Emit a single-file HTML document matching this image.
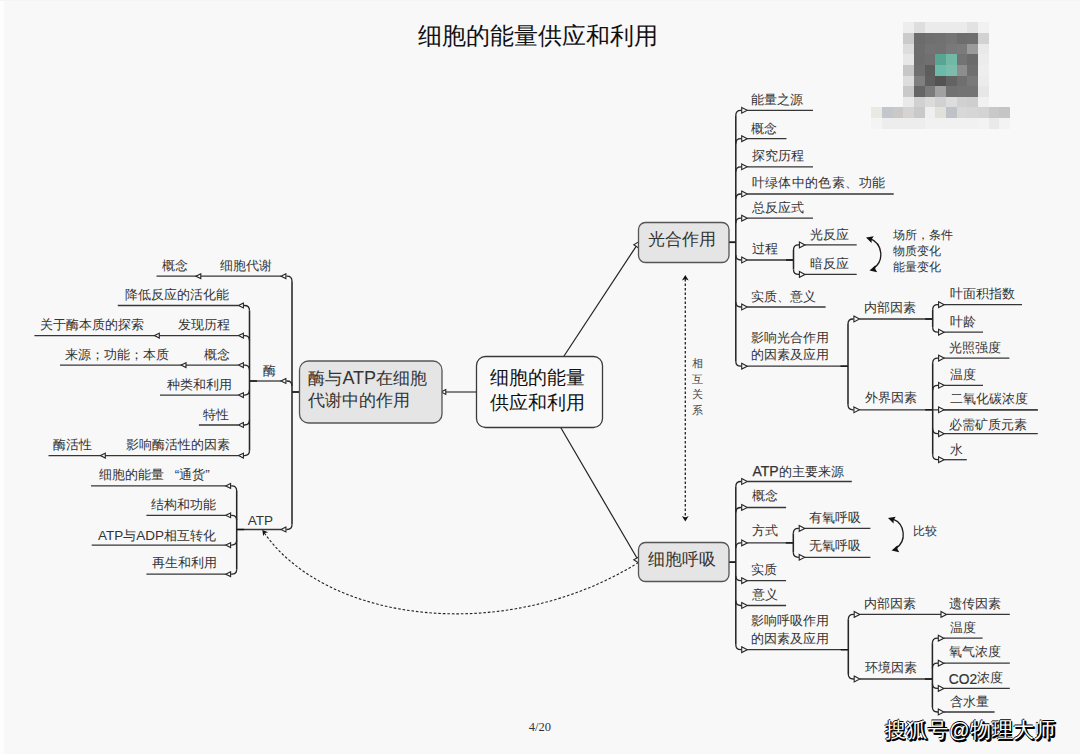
<!DOCTYPE html><html><head><meta charset="utf-8"><style>
html,body{margin:0;padding:0;}
body{width:1080px;height:754px;overflow:hidden;position:relative;background:#f8f8f8;font-family:"Liberation Sans",sans-serif;}
.t{position:absolute;white-space:nowrap;}
svg{position:absolute;left:0;top:0;}
</style></head><body>
<div style="position:absolute;left:0;top:0;width:4px;height:754px;background:#fdfdfd"></div>
<div style="position:absolute;left:0;top:0;width:1080px;height:1px;background:#f4f4f4"></div>
<svg width="1080" height="754" viewBox="0 0 1080 754"><path d="M563.7,356.5 L636.8,245.3" stroke="#222" stroke-width="1.2"  fill="none"/><path d="M560.7,427.5 L636.8,557.8" stroke="#222" stroke-width="1.2"  fill="none"/><path d="M476.5,392 L445.6,392" stroke="#363636" stroke-width="1.2"  fill="none"/><path d="M729,242.2 L735.8,242.2" stroke="#1a1a1a" stroke-width="1.8"  fill="none"/><path d="M735.8,115.3 L735.8,361.2" stroke="#262626" stroke-width="1.55"  fill="none"/><path d="M735.8,115.3 Q735.8,110.3 740.8,110.3 L741.4,110.3" stroke="#262626" stroke-width="1.3"  fill="none"/><path d="M747.3,110.3 L813,110.3" stroke="#363636" stroke-width="1.3"  fill="none"/><path d="M735.8,143.7 Q735.8,138.7 740.8,138.7 L741.4,138.7" stroke="#262626" stroke-width="1.3"  fill="none"/><path d="M747.3,138.7 L786.5,138.7" stroke="#363636" stroke-width="1.3"  fill="none"/><path d="M735.8,171.8 Q735.8,166.8 740.8,166.8 L741.4,166.8" stroke="#262626" stroke-width="1.3"  fill="none"/><path d="M747.3,166.8 L813,166.8" stroke="#363636" stroke-width="1.3"  fill="none"/><path d="M735.8,199.0 Q735.8,194 740.8,194 L741.4,194" stroke="#262626" stroke-width="1.3"  fill="none"/><path d="M747.3,194 L893.7,194" stroke="#363636" stroke-width="1.3"  fill="none"/><path d="M735.8,223.2 Q735.8,218.2 740.8,218.2 L741.4,218.2" stroke="#262626" stroke-width="1.3"  fill="none"/><path d="M747.3,218.2 L813,218.2" stroke="#363636" stroke-width="1.3"  fill="none"/><path d="M735.8,255.0 Q735.8,260 740.8,260 L741.4,260" stroke="#262626" stroke-width="1.3"  fill="none"/><path d="M747.3,260 L793.5,260" stroke="#363636" stroke-width="1.3"  fill="none"/><path d="M735.8,302.0 Q735.8,307 740.8,307 L741.4,307" stroke="#262626" stroke-width="1.3"  fill="none"/><path d="M747.3,307 L825.6,307" stroke="#363636" stroke-width="1.3"  fill="none"/><path d="M735.8,361.2 Q735.8,366.2 740.8,366.2 L741.4,366.2" stroke="#262626" stroke-width="1.3"  fill="none"/><path d="M747.3,366.2 L848,366.2" stroke="#363636" stroke-width="1.3"  fill="none"/><path d="M786.0,260 L793.5,260" stroke="#111" stroke-width="1.4"  fill="none"/><path d="M793.5,249.9 L793.5,269.4" stroke="#262626" stroke-width="1.55"  fill="none"/><path d="M793.5,249.9 Q793.5,244.9 798.5,244.9 L799.1,244.9" stroke="#262626" stroke-width="1.3"  fill="none"/><path d="M805.0,244.9 L856.7,244.9" stroke="#363636" stroke-width="1.3"  fill="none"/><path d="M793.5,269.4 Q793.5,274.4 798.5,274.4 L799.1,274.4" stroke="#262626" stroke-width="1.3"  fill="none"/><path d="M805.0,274.4 L856.7,274.4" stroke="#363636" stroke-width="1.3"  fill="none"/><path d="M840.5,366.2 L848,366.2" stroke="#111" stroke-width="1.4"  fill="none"/><path d="M848,324.0 L848,404.8" stroke="#262626" stroke-width="1.55"  fill="none"/><path d="M848,324.0 Q848,319 853.0,319 L853.6,319" stroke="#262626" stroke-width="1.3"  fill="none"/><path d="M859.5,319 L932.7,319" stroke="#363636" stroke-width="1.3"  fill="none"/><path d="M848,404.8 Q848,409.8 853.0,409.8 L853.6,409.8" stroke="#262626" stroke-width="1.3"  fill="none"/><path d="M859.5,409.8 L932.7,409.8" stroke="#363636" stroke-width="1.3"  fill="none"/><path d="M925.2,319 L932.7,319" stroke="#111" stroke-width="1.4"  fill="none"/><path d="M932.7,309.7 L932.7,327.2" stroke="#262626" stroke-width="1.55"  fill="none"/><path d="M932.7,309.7 Q932.7,304.7 937.7,304.7 L938.3000000000001,304.7" stroke="#262626" stroke-width="1.3"  fill="none"/><path d="M944.2,304.7 L1022,304.7" stroke="#363636" stroke-width="1.3"  fill="none"/><path d="M932.7,327.2 Q932.7,332.2 937.7,332.2 L938.3000000000001,332.2" stroke="#262626" stroke-width="1.3"  fill="none"/><path d="M944.2,332.2 L983,332.2" stroke="#363636" stroke-width="1.3"  fill="none"/><path d="M925.2,409.8 L932.7,409.8" stroke="#111" stroke-width="1.4"  fill="none"/><path d="M932.7,363.1 L932.7,454.7" stroke="#262626" stroke-width="1.55"  fill="none"/><path d="M932.7,363.1 Q932.7,358.1 937.7,358.1 L938.3000000000001,358.1" stroke="#262626" stroke-width="1.3"  fill="none"/><path d="M944.2,358.1 L1009.4,358.1" stroke="#363636" stroke-width="1.3"  fill="none"/><path d="M932.7,390.3 Q932.7,385.3 937.7,385.3 L938.3000000000001,385.3" stroke="#262626" stroke-width="1.3"  fill="none"/><path d="M944.2,385.3 L983,385.3" stroke="#363636" stroke-width="1.3"  fill="none"/><path d="M932.7,409.8 L1037.8,409.8" stroke="#363636" stroke-width="1.3"  fill="none"/><path d="M944.2,409.8 L1037.8,409.8" stroke="#363636" stroke-width="1.3"  fill="none"/><path d="M932.7,428.7 Q932.7,433.7 937.7,433.7 L938.3000000000001,433.7" stroke="#262626" stroke-width="1.3"  fill="none"/><path d="M944.2,433.7 L1037.8,433.7" stroke="#363636" stroke-width="1.3"  fill="none"/><path d="M932.7,454.7 Q932.7,459.7 937.7,459.7 L938.3000000000001,459.7" stroke="#262626" stroke-width="1.3"  fill="none"/><path d="M944.2,459.7 L966.8,459.7" stroke="#363636" stroke-width="1.3"  fill="none"/><path d="M729,562.1 L735.8,562.1" stroke="#1a1a1a" stroke-width="1.8"  fill="none"/><path d="M735.8,486.5 L735.8,644.7" stroke="#262626" stroke-width="1.55"  fill="none"/><path d="M735.8,486.5 Q735.8,481.5 740.8,481.5 L741.4,481.5" stroke="#262626" stroke-width="1.3"  fill="none"/><path d="M747.3,481.5 L851.8,481.5" stroke="#363636" stroke-width="1.3"  fill="none"/><path d="M735.8,512.5 Q735.8,507.5 740.8,507.5 L741.4,507.5" stroke="#262626" stroke-width="1.3"  fill="none"/><path d="M747.3,507.5 L786.1,507.5" stroke="#363636" stroke-width="1.3"  fill="none"/><path d="M735.8,547.9 Q735.8,542.9 740.8,542.9 L741.4,542.9" stroke="#262626" stroke-width="1.3"  fill="none"/><path d="M747.3,542.9 L793.3,542.9" stroke="#363636" stroke-width="1.3"  fill="none"/><path d="M735.8,575.7 Q735.8,580.7 740.8,580.7 L741.4,580.7" stroke="#262626" stroke-width="1.3"  fill="none"/><path d="M747.3,580.7 L786.1,580.7" stroke="#363636" stroke-width="1.3"  fill="none"/><path d="M735.8,600.5 Q735.8,605.5 740.8,605.5 L741.4,605.5" stroke="#262626" stroke-width="1.3"  fill="none"/><path d="M747.3,605.5 L786.1,605.5" stroke="#363636" stroke-width="1.3"  fill="none"/><path d="M735.8,644.7 Q735.8,649.7 740.8,649.7 L741.4,649.7" stroke="#262626" stroke-width="1.3"  fill="none"/><path d="M747.3,649.7 L848.3,649.7" stroke="#363636" stroke-width="1.3"  fill="none"/><path d="M785.8,542.9 L793.3,542.9" stroke="#111" stroke-width="1.4"  fill="none"/><path d="M793.3,533.4 L793.3,552.3" stroke="#262626" stroke-width="1.55"  fill="none"/><path d="M793.3,533.4 Q793.3,528.4 798.3,528.4 L798.9,528.4" stroke="#262626" stroke-width="1.3"  fill="none"/><path d="M804.8,528.4 L870.4,528.4" stroke="#363636" stroke-width="1.3"  fill="none"/><path d="M793.3,552.3 Q793.3,557.3 798.3,557.3 L798.9,557.3" stroke="#262626" stroke-width="1.3"  fill="none"/><path d="M804.8,557.3 L870.4,557.3" stroke="#363636" stroke-width="1.3"  fill="none"/><path d="M840.8,649.7 L848.3,649.7" stroke="#111" stroke-width="1.4"  fill="none"/><path d="M848.3,619.4 L848.3,674.0" stroke="#262626" stroke-width="1.55"  fill="none"/><path d="M848.3,619.4 Q848.3,614.4 853.3,614.4 L853.9,614.4" stroke="#262626" stroke-width="1.3"  fill="none"/><path d="M859.8,614.4 L941,614.4" stroke="#363636" stroke-width="1.3"  fill="none"/><path d="M848.3,674.0 Q848.3,679 853.3,679 L853.9,679" stroke="#262626" stroke-width="1.3"  fill="none"/><path d="M859.8,679 L932.4,679" stroke="#363636" stroke-width="1.3"  fill="none"/><path d="M946.6,614.4 L1009.8,614.4" stroke="#363636" stroke-width="1.3"  fill="none"/><path d="M924.9,679 L932.4,679" stroke="#111" stroke-width="1.4"  fill="none"/><path d="M932.4,643.2 L932.4,707.0" stroke="#262626" stroke-width="1.55"  fill="none"/><path d="M932.4,643.2 Q932.4,638.2 937.4,638.2 L938.0,638.2" stroke="#262626" stroke-width="1.3"  fill="none"/><path d="M943.9,638.2 L982.6,638.2" stroke="#363636" stroke-width="1.3"  fill="none"/><path d="M932.4,668.2 Q932.4,663.2 937.4,663.2 L938.0,663.2" stroke="#262626" stroke-width="1.3"  fill="none"/><path d="M943.9,663.2 L1009.8,663.2" stroke="#363636" stroke-width="1.3"  fill="none"/><path d="M932.4,683.4 Q932.4,688.4 937.4,688.4 L938.0,688.4" stroke="#262626" stroke-width="1.3"  fill="none"/><path d="M943.9,688.4 L1009.8,688.4" stroke="#363636" stroke-width="1.3"  fill="none"/><path d="M932.4,707.0 Q932.4,712 937.4,712 L938.0,712" stroke="#262626" stroke-width="1.3"  fill="none"/><path d="M943.9,712 L994.6,712" stroke="#363636" stroke-width="1.3"  fill="none"/><path d="M299.5,392 L292,392" stroke="#1a1a1a" stroke-width="1.8"  fill="none"/><path d="M292,281.2 L292,524.5" stroke="#262626" stroke-width="1.55"  fill="none"/><path d="M292,281.2 Q292,276.2 287.0,276.2 L286.4,276.2" stroke="#262626" stroke-width="1.3"  fill="none"/><path d="M281.0,276.2 L156.5,276.2" stroke="#363636" stroke-width="1.3"  fill="none"/><path d="M292,386.0 Q292,381 287.0,381 L286.4,381" stroke="#262626" stroke-width="1.3"  fill="none"/><path d="M281.0,381 L249.5,381" stroke="#363636" stroke-width="1.3"  fill="none"/><path d="M292,524.5 Q292,529.5 287.0,529.5 L286.4,529.5" stroke="#262626" stroke-width="1.3"  fill="none"/><path d="M281.0,529.5 L236.7,529.5" stroke="#363636" stroke-width="1.3"  fill="none"/><path d="M249.5,381 L257.0,381" stroke="#111" stroke-width="1.4"  fill="none"/><path d="M249.5,310.5 L249.5,450.6" stroke="#262626" stroke-width="1.55"  fill="none"/><path d="M249.5,310.5 Q249.5,305.5 244.5,305.5 L243.9,305.5" stroke="#262626" stroke-width="1.3"  fill="none"/><path d="M238.5,305.5 L117.8,305.5" stroke="#363636" stroke-width="1.3"  fill="none"/><path d="M249.5,340.6 Q249.5,335.6 244.5,335.6 L243.9,335.6" stroke="#262626" stroke-width="1.3"  fill="none"/><path d="M238.5,335.6 L34.4,335.6" stroke="#363636" stroke-width="1.3"  fill="none"/><path d="M249.5,370.1 Q249.5,365.1 244.5,365.1 L243.9,365.1" stroke="#262626" stroke-width="1.3"  fill="none"/><path d="M238.5,365.1 L60,365.1" stroke="#363636" stroke-width="1.3"  fill="none"/><path d="M249.5,390.1 Q249.5,395.1 244.5,395.1 L243.9,395.1" stroke="#262626" stroke-width="1.3"  fill="none"/><path d="M238.5,395.1 L160,395.1" stroke="#363636" stroke-width="1.3"  fill="none"/><path d="M249.5,420.0 Q249.5,425 244.5,425 L243.9,425" stroke="#262626" stroke-width="1.3"  fill="none"/><path d="M238.5,425 L198.9,425" stroke="#363636" stroke-width="1.3"  fill="none"/><path d="M249.5,450.6 Q249.5,455.6 244.5,455.6 L243.9,455.6" stroke="#262626" stroke-width="1.3"  fill="none"/><path d="M238.5,455.6 L48.5,455.6" stroke="#363636" stroke-width="1.3"  fill="none"/><path d="M236.7,529.5 L244.2,529.5" stroke="#111" stroke-width="1.4"  fill="none"/><path d="M236.7,490.9 L236.7,569.2" stroke="#262626" stroke-width="1.55"  fill="none"/><path d="M236.7,490.9 Q236.7,485.9 231.7,485.9 L231.1,485.9" stroke="#262626" stroke-width="1.3"  fill="none"/><path d="M225.7,485.9 L91,485.9" stroke="#363636" stroke-width="1.3"  fill="none"/><path d="M236.7,520.3 Q236.7,515.3 231.7,515.3 L231.1,515.3" stroke="#262626" stroke-width="1.3"  fill="none"/><path d="M225.7,515.3 L146.4,515.3" stroke="#363636" stroke-width="1.3"  fill="none"/><path d="M236.7,540.1 Q236.7,545.1 231.7,545.1 L231.1,545.1" stroke="#262626" stroke-width="1.3"  fill="none"/><path d="M225.7,545.1 L91.7,545.1" stroke="#363636" stroke-width="1.3"  fill="none"/><path d="M236.7,569.2 Q236.7,574.2 231.7,574.2 L231.1,574.2" stroke="#262626" stroke-width="1.3"  fill="none"/><path d="M225.7,574.2 L146.4,574.2" stroke="#363636" stroke-width="1.3"  fill="none"/><path d="M685.3,279 L685.3,518" stroke="#222" stroke-width="1.3" stroke-dasharray="2.6 1.9" fill="none"/><path d="M638.5,562.5 C505.5,645.2 326.6,622.8 264,532.5" stroke="#222" stroke-width="1.1" stroke-dasharray="2.6 1.9" fill="none"/><path d="M870.33,238.68 A17.08,17.08 0 0 1 873.49,268.44" stroke="#1a1a1a" stroke-width="1.3"  fill="none"/><path d="M892.38,518.98 A16.67,16.67 0 0 1 895.66,548.59" stroke="#1a1a1a" stroke-width="1.3"  fill="none"/><polygon points="638.6,241.9 633.8,244.8 638.6,247.9" fill="#f8f8f8" stroke="#262626" stroke-width="1.1" stroke-linejoin="miter"/><polygon points="638.6,557.0 633.8,559.8 638.6,562.9" fill="#f8f8f8" stroke="#262626" stroke-width="1.1" stroke-linejoin="miter"/><polygon points="445.80,389.60 441.20,392.00 445.80,394.40" fill="#f8f8f8" stroke="#262626" stroke-width="1.1" stroke-linejoin="miter"/><polygon points="741.70,107.40 747.30,110.30 741.70,113.20" fill="#f8f8f8" stroke="#262626" stroke-width="1.1" stroke-linejoin="miter"/><polygon points="741.70,135.80 747.30,138.70 741.70,141.60" fill="#f8f8f8" stroke="#262626" stroke-width="1.1" stroke-linejoin="miter"/><polygon points="741.70,163.90 747.30,166.80 741.70,169.70" fill="#f8f8f8" stroke="#262626" stroke-width="1.1" stroke-linejoin="miter"/><polygon points="741.70,191.10 747.30,194.00 741.70,196.90" fill="#f8f8f8" stroke="#262626" stroke-width="1.1" stroke-linejoin="miter"/><polygon points="741.70,215.30 747.30,218.20 741.70,221.10" fill="#f8f8f8" stroke="#262626" stroke-width="1.1" stroke-linejoin="miter"/><polygon points="741.70,257.10 747.30,260.00 741.70,262.90" fill="#f8f8f8" stroke="#262626" stroke-width="1.1" stroke-linejoin="miter"/><polygon points="741.70,304.10 747.30,307.00 741.70,309.90" fill="#f8f8f8" stroke="#262626" stroke-width="1.1" stroke-linejoin="miter"/><polygon points="741.70,363.30 747.30,366.20 741.70,369.10" fill="#f8f8f8" stroke="#262626" stroke-width="1.1" stroke-linejoin="miter"/><polygon points="799.40,242.00 805.00,244.90 799.40,247.80" fill="#f8f8f8" stroke="#262626" stroke-width="1.1" stroke-linejoin="miter"/><polygon points="799.40,271.50 805.00,274.40 799.40,277.30" fill="#f8f8f8" stroke="#262626" stroke-width="1.1" stroke-linejoin="miter"/><polygon points="853.90,316.10 859.50,319.00 853.90,321.90" fill="#f8f8f8" stroke="#262626" stroke-width="1.1" stroke-linejoin="miter"/><polygon points="853.90,406.90 859.50,409.80 853.90,412.70" fill="#f8f8f8" stroke="#262626" stroke-width="1.1" stroke-linejoin="miter"/><polygon points="938.60,301.80 944.20,304.70 938.60,307.60" fill="#f8f8f8" stroke="#262626" stroke-width="1.1" stroke-linejoin="miter"/><polygon points="938.60,329.30 944.20,332.20 938.60,335.10" fill="#f8f8f8" stroke="#262626" stroke-width="1.1" stroke-linejoin="miter"/><polygon points="938.60,355.20 944.20,358.10 938.60,361.00" fill="#f8f8f8" stroke="#262626" stroke-width="1.1" stroke-linejoin="miter"/><polygon points="938.60,382.40 944.20,385.30 938.60,388.20" fill="#f8f8f8" stroke="#262626" stroke-width="1.1" stroke-linejoin="miter"/><polygon points="938.60,406.90 944.20,409.80 938.60,412.70" fill="#f8f8f8" stroke="#262626" stroke-width="1.1" stroke-linejoin="miter"/><polygon points="938.60,430.80 944.20,433.70 938.60,436.60" fill="#f8f8f8" stroke="#262626" stroke-width="1.1" stroke-linejoin="miter"/><polygon points="938.60,456.80 944.20,459.70 938.60,462.60" fill="#f8f8f8" stroke="#262626" stroke-width="1.1" stroke-linejoin="miter"/><polygon points="741.70,478.60 747.30,481.50 741.70,484.40" fill="#f8f8f8" stroke="#262626" stroke-width="1.1" stroke-linejoin="miter"/><polygon points="741.70,504.60 747.30,507.50 741.70,510.40" fill="#f8f8f8" stroke="#262626" stroke-width="1.1" stroke-linejoin="miter"/><polygon points="741.70,540.00 747.30,542.90 741.70,545.80" fill="#f8f8f8" stroke="#262626" stroke-width="1.1" stroke-linejoin="miter"/><polygon points="741.70,577.80 747.30,580.70 741.70,583.60" fill="#f8f8f8" stroke="#262626" stroke-width="1.1" stroke-linejoin="miter"/><polygon points="741.70,602.60 747.30,605.50 741.70,608.40" fill="#f8f8f8" stroke="#262626" stroke-width="1.1" stroke-linejoin="miter"/><polygon points="741.70,646.80 747.30,649.70 741.70,652.60" fill="#f8f8f8" stroke="#262626" stroke-width="1.1" stroke-linejoin="miter"/><polygon points="799.20,525.50 804.80,528.40 799.20,531.30" fill="#f8f8f8" stroke="#262626" stroke-width="1.1" stroke-linejoin="miter"/><polygon points="799.20,554.40 804.80,557.30 799.20,560.20" fill="#f8f8f8" stroke="#262626" stroke-width="1.1" stroke-linejoin="miter"/><polygon points="854.20,611.50 859.80,614.40 854.20,617.30" fill="#f8f8f8" stroke="#262626" stroke-width="1.1" stroke-linejoin="miter"/><polygon points="854.20,676.10 859.80,679.00 854.20,681.90" fill="#f8f8f8" stroke="#262626" stroke-width="1.1" stroke-linejoin="miter"/><polygon points="941.00,611.50 946.60,614.40 941.00,617.30" fill="#f8f8f8" stroke="#262626" stroke-width="1.1" stroke-linejoin="miter"/><polygon points="938.30,635.30 943.90,638.20 938.30,641.10" fill="#f8f8f8" stroke="#262626" stroke-width="1.1" stroke-linejoin="miter"/><polygon points="938.30,660.30 943.90,663.20 938.30,666.10" fill="#f8f8f8" stroke="#262626" stroke-width="1.1" stroke-linejoin="miter"/><polygon points="938.30,685.50 943.90,688.40 938.30,691.30" fill="#f8f8f8" stroke="#262626" stroke-width="1.1" stroke-linejoin="miter"/><polygon points="938.30,709.10 943.90,712.00 938.30,714.90" fill="#f8f8f8" stroke="#262626" stroke-width="1.1" stroke-linejoin="miter"/><polygon points="285.90,273.80 281.00,276.20 285.90,278.60" fill="#f8f8f8" stroke="#262626" stroke-width="1.1" stroke-linejoin="miter"/><polygon points="285.90,378.60 281.00,381.00 285.90,383.40" fill="#f8f8f8" stroke="#262626" stroke-width="1.1" stroke-linejoin="miter"/><polygon points="285.90,527.10 281.00,529.50 285.90,531.90" fill="#f8f8f8" stroke="#262626" stroke-width="1.1" stroke-linejoin="miter"/><polygon points="200.80,273.80 195.90,276.20 200.80,278.60" fill="#f8f8f8" stroke="#262626" stroke-width="1.1" stroke-linejoin="miter"/><polygon points="243.40,303.10 238.50,305.50 243.40,307.90" fill="#f8f8f8" stroke="#262626" stroke-width="1.1" stroke-linejoin="miter"/><polygon points="243.40,333.20 238.50,335.60 243.40,338.00" fill="#f8f8f8" stroke="#262626" stroke-width="1.1" stroke-linejoin="miter"/><polygon points="243.40,362.70 238.50,365.10 243.40,367.50" fill="#f8f8f8" stroke="#262626" stroke-width="1.1" stroke-linejoin="miter"/><polygon points="243.40,392.70 238.50,395.10 243.40,397.50" fill="#f8f8f8" stroke="#262626" stroke-width="1.1" stroke-linejoin="miter"/><polygon points="243.40,422.60 238.50,425.00 243.40,427.40" fill="#f8f8f8" stroke="#262626" stroke-width="1.1" stroke-linejoin="miter"/><polygon points="243.40,453.20 238.50,455.60 243.40,458.00" fill="#f8f8f8" stroke="#262626" stroke-width="1.1" stroke-linejoin="miter"/><polygon points="159.30,333.20 154.40,335.60 159.30,338.00" fill="#f8f8f8" stroke="#262626" stroke-width="1.1" stroke-linejoin="miter"/><polygon points="186.00,362.70 181.10,365.10 186.00,367.50" fill="#f8f8f8" stroke="#262626" stroke-width="1.1" stroke-linejoin="miter"/><polygon points="105.30,453.20 100.40,455.60 105.30,458.00" fill="#f8f8f8" stroke="#262626" stroke-width="1.1" stroke-linejoin="miter"/><polygon points="230.60,483.50 225.70,485.90 230.60,488.30" fill="#f8f8f8" stroke="#262626" stroke-width="1.1" stroke-linejoin="miter"/><polygon points="230.60,512.90 225.70,515.30 230.60,517.70" fill="#f8f8f8" stroke="#262626" stroke-width="1.1" stroke-linejoin="miter"/><polygon points="230.60,542.70 225.70,545.10 230.60,547.50" fill="#f8f8f8" stroke="#262626" stroke-width="1.1" stroke-linejoin="miter"/><polygon points="230.60,571.80 225.70,574.20 230.60,576.60" fill="#f8f8f8" stroke="#262626" stroke-width="1.1" stroke-linejoin="miter"/><rect x="476.5" y="356.5" width="126.0" height="71.0" rx="9" ry="9" fill="#f9f9f9" stroke="#3a3a3a" stroke-width="1.3"/><rect x="638.5" y="222.5" width="90.5" height="40.0" rx="7" ry="7" fill="#e5e5e5" stroke="#555" stroke-width="1.3"/><rect x="638.5" y="542.5" width="90.5" height="39.0" rx="7" ry="7" fill="#e5e5e5" stroke="#555" stroke-width="1.3"/><rect x="299.5" y="361" width="142.5" height="62" rx="9" ry="9" fill="#e5e5e5" stroke="#555" stroke-width="1.3"/><path d="M866.00,237.50 L873.76,236.18 L871.72,239.31 L871.59,243.04 Z" fill="#111" stroke="none"/><path d="M869.50,270.50 L875.43,265.32 L875.32,269.06 L877.16,272.31 Z" fill="#111" stroke="none"/><path d="M888.00,518.00 L895.76,516.68 L893.72,519.81 L893.59,523.54 Z" fill="#111" stroke="none"/><path d="M891.60,550.50 L897.53,545.32 L897.42,549.06 L899.26,552.31 Z" fill="#111" stroke="none"/><path d="M685.30,275.00 L688.70,280.50 L685.30,278.90 L681.90,280.50 Z" fill="#111" stroke="none"/><path d="M685.30,521.50 L681.90,516.00 L685.30,517.60 L688.70,516.00 Z" fill="#111" stroke="none"/><path d="M262.30,530.00 L268.24,532.28 L264.74,533.04 L263.25,536.29 Z" fill="#111" stroke="none"/></svg>
<svg width="1080" height="754" viewBox="0 0 1080 754" shape-rendering="crispEdges"><rect x="903.38" y="22.20" width="10.76" height="10.76" fill="#ededed"/><rect x="914.04" y="22.20" width="10.76" height="10.76" fill="#dedede"/><rect x="924.70" y="22.20" width="10.76" height="10.76" fill="#ebebeb"/><rect x="935.36" y="22.20" width="10.76" height="10.76" fill="#ebebeb"/><rect x="946.02" y="22.20" width="10.76" height="10.76" fill="#ebebeb"/><rect x="956.68" y="22.20" width="10.76" height="10.76" fill="#ebebeb"/><rect x="967.34" y="22.20" width="10.76" height="10.76" fill="#e2e2e2"/><rect x="978.00" y="22.20" width="10.76" height="10.76" fill="#f1f1f1"/><rect x="903.38" y="32.86" width="10.76" height="10.76" fill="#cbcbcb"/><rect x="914.04" y="32.86" width="10.76" height="10.76" fill="#6c6c6c"/><rect x="924.70" y="32.86" width="10.76" height="10.76" fill="#6f6f6f"/><rect x="935.36" y="32.86" width="10.76" height="10.76" fill="#717171"/><rect x="946.02" y="32.86" width="10.76" height="10.76" fill="#757575"/><rect x="956.68" y="32.86" width="10.76" height="10.76" fill="#6d6d6d"/><rect x="967.34" y="32.86" width="10.76" height="10.76" fill="#6f6f6f"/><rect x="978.00" y="32.86" width="10.76" height="10.76" fill="#d2d2d2"/><rect x="903.38" y="43.52" width="10.76" height="10.76" fill="#dddddd"/><rect x="914.04" y="43.52" width="10.76" height="10.76" fill="#6d6d6d"/><rect x="924.70" y="43.52" width="10.76" height="10.76" fill="#737373"/><rect x="935.36" y="43.52" width="10.76" height="10.76" fill="#727272"/><rect x="946.02" y="43.52" width="10.76" height="10.76" fill="#797979"/><rect x="956.68" y="43.52" width="10.76" height="10.76" fill="#7b7b7b"/><rect x="967.34" y="43.52" width="10.76" height="10.76" fill="#9b9b9b"/><rect x="978.00" y="43.52" width="10.76" height="10.76" fill="#e9e9e9"/><rect x="903.38" y="54.18" width="10.76" height="10.76" fill="#e7e7e7"/><rect x="914.04" y="54.18" width="10.76" height="10.76" fill="#6d6d6d"/><rect x="924.70" y="54.18" width="10.76" height="10.76" fill="#707070"/><rect x="935.36" y="54.18" width="10.76" height="10.76" fill="#5aa592"/><rect x="946.02" y="54.18" width="10.76" height="10.76" fill="#72b8a6"/><rect x="956.68" y="54.18" width="10.76" height="10.76" fill="#737373"/><rect x="967.34" y="54.18" width="10.76" height="10.76" fill="#6b6b6b"/><rect x="978.00" y="54.18" width="10.76" height="10.76" fill="#ececec"/><rect x="903.38" y="64.84" width="10.76" height="10.76" fill="#c7c7c7"/><rect x="914.04" y="64.84" width="10.76" height="10.76" fill="#6f6f6f"/><rect x="924.70" y="64.84" width="10.76" height="10.76" fill="#5d5d5d"/><rect x="935.36" y="64.84" width="10.76" height="10.76" fill="#6cbaa8"/><rect x="946.02" y="64.84" width="10.76" height="10.76" fill="#7bbcac"/><rect x="956.68" y="64.84" width="10.76" height="10.76" fill="#8d8d8d"/><rect x="967.34" y="64.84" width="10.76" height="10.76" fill="#6f6f6f"/><rect x="978.00" y="64.84" width="10.76" height="10.76" fill="#eeeeee"/><rect x="903.38" y="75.50" width="10.76" height="10.76" fill="#dddddd"/><rect x="914.04" y="75.50" width="10.76" height="10.76" fill="#7f7f7f"/><rect x="924.70" y="75.50" width="10.76" height="10.76" fill="#5f5f5f"/><rect x="935.36" y="75.50" width="10.76" height="10.76" fill="#535353"/><rect x="946.02" y="75.50" width="10.76" height="10.76" fill="#636363"/><rect x="956.68" y="75.50" width="10.76" height="10.76" fill="#6f6f6f"/><rect x="967.34" y="75.50" width="10.76" height="10.76" fill="#797979"/><rect x="978.00" y="75.50" width="10.76" height="10.76" fill="#ececec"/><rect x="903.38" y="86.16" width="10.76" height="10.76" fill="#c9c9c9"/><rect x="914.04" y="86.16" width="10.76" height="10.76" fill="#656565"/><rect x="924.70" y="86.16" width="10.76" height="10.76" fill="#7b7b7b"/><rect x="935.36" y="86.16" width="10.76" height="10.76" fill="#a1a1a1"/><rect x="946.02" y="86.16" width="10.76" height="10.76" fill="#717171"/><rect x="956.68" y="86.16" width="10.76" height="10.76" fill="#737373"/><rect x="967.34" y="86.16" width="10.76" height="10.76" fill="#737373"/><rect x="978.00" y="86.16" width="10.76" height="10.76" fill="#e7e7e7"/><rect x="903.38" y="96.82" width="10.76" height="10.76" fill="#e9e9e9"/><rect x="914.04" y="96.82" width="10.76" height="10.76" fill="#d1d1d1"/><rect x="924.70" y="96.82" width="10.76" height="10.76" fill="#dbdbdb"/><rect x="935.36" y="96.82" width="10.76" height="10.76" fill="#d1d1d1"/><rect x="946.02" y="96.82" width="10.76" height="10.76" fill="#dddddd"/><rect x="956.68" y="96.82" width="10.76" height="10.76" fill="#d1d1d1"/><rect x="967.34" y="96.82" width="10.76" height="10.76" fill="#cecece"/><rect x="978.00" y="96.82" width="10.76" height="10.76" fill="#f1f1f1"/><rect x="871.40" y="107.48" width="10.76" height="10.76" fill="#ebe9e4"/><rect x="882.06" y="107.48" width="10.76" height="10.76" fill="#c3c6ca"/><rect x="892.72" y="107.48" width="10.76" height="10.76" fill="#c9c9c9"/><rect x="903.38" y="107.48" width="10.76" height="10.76" fill="#d6d3d0"/><rect x="914.04" y="107.48" width="10.76" height="10.76" fill="#c9c9c9"/><rect x="924.70" y="107.48" width="10.76" height="10.76" fill="#eef0f0"/><rect x="935.36" y="107.48" width="10.76" height="10.76" fill="#e2e0da"/><rect x="946.02" y="107.48" width="10.76" height="10.76" fill="#bfc3c8"/><rect x="956.68" y="107.48" width="10.76" height="10.76" fill="#d8d8d8"/><rect x="967.34" y="107.48" width="10.76" height="10.76" fill="#d6d6d6"/><rect x="978.00" y="107.48" width="10.76" height="10.76" fill="#d4d4d4"/><rect x="988.66" y="107.48" width="10.76" height="10.76" fill="#c9c9c9"/><rect x="999.32" y="107.48" width="10.76" height="10.76" fill="#c5c5c5"/><rect x="871.40" y="118.14" width="10.76" height="10.76" fill="#f4f4f4"/><rect x="882.06" y="118.14" width="10.76" height="10.76" fill="#ededed"/><rect x="892.72" y="118.14" width="10.76" height="10.76" fill="#ededed"/><rect x="903.38" y="118.14" width="10.76" height="10.76" fill="#ededed"/><rect x="914.04" y="118.14" width="10.76" height="10.76" fill="#ededed"/><rect x="924.70" y="118.14" width="10.76" height="10.76" fill="#f1f1f1"/><rect x="935.36" y="118.14" width="10.76" height="10.76" fill="#f1f1f1"/><rect x="946.02" y="118.14" width="10.76" height="10.76" fill="#f1f1f1"/><rect x="956.68" y="118.14" width="10.76" height="10.76" fill="#f1f1f1"/><rect x="967.34" y="118.14" width="10.76" height="10.76" fill="#f1f1f1"/><rect x="978.00" y="118.14" width="10.76" height="10.76" fill="#f3f3f3"/><rect x="988.66" y="118.14" width="10.76" height="10.76" fill="#e9e9e9"/><rect x="999.32" y="118.14" width="10.76" height="10.76" fill="#f3f3f3"/></svg>
<div class="t" id="t0" style="left:417.5px;top:24.1px;font-size:23.8px;line-height:23.8px;color:#111;font-weight:normal;">细胞的能量供应和利用</div>
<div class="t" id="t1" style="left:489.6px;top:369.1px;font-size:18.7px;line-height:18.7px;color:#111;font-weight:normal;">细胞的能量</div>
<div class="t" id="t2" style="left:489.6px;top:393.5px;font-size:18.7px;line-height:18.7px;color:#111;font-weight:normal;">供应和利用</div>
<div class="t" id="t3" style="left:647.5px;top:230.9px;font-size:17px;line-height:17px;color:#333;font-weight:normal;">光合作用</div>
<div class="t" id="t4" style="left:648.3px;top:551.2px;font-size:17px;line-height:17px;color:#333;font-weight:normal;">细胞呼吸</div>
<div class="t" id="t5" style="left:308.4px;top:369.5px;font-size:17px;line-height:17px;color:#333;font-weight:normal;">酶与<span style="font-size:18px">ATP</span>在细胞</div>
<div class="t" id="t6" style="left:308.4px;top:391.5px;font-size:17px;line-height:17px;color:#333;font-weight:normal;">代谢中的作用</div>
<div class="t" id="t7" style="left:751.1px;top:93.4px;font-size:13.4px;line-height:13.4px;color:#333;font-weight:normal;">能量之源</div>
<div class="t" id="t8" style="left:751.1px;top:122.2px;font-size:13.4px;line-height:13.4px;color:#333;font-weight:normal;">概念</div>
<div class="t" id="t9" style="left:751.7px;top:149.0px;font-size:13.4px;line-height:13.4px;color:#333;font-weight:normal;">探究历程</div>
<div class="t" id="t10" style="left:751.5px;top:176.3px;font-size:13.4px;line-height:13.4px;color:#333;font-weight:normal;letter-spacing:0.4px;">叶绿体中的色素、功能</div>
<div class="t" id="t11" style="left:751.5px;top:200.9px;font-size:13.4px;line-height:13.4px;color:#333;font-weight:normal;">总反应式</div>
<div class="t" id="t12" style="left:751.7px;top:241.6px;font-size:13.4px;line-height:13.4px;color:#333;font-weight:normal;">过程</div>
<div class="t" id="t13" style="left:750.7px;top:290.3px;font-size:13.4px;line-height:13.4px;color:#333;font-weight:normal;">实质、意义</div>
<div class="t" id="t14" style="left:750.7px;top:331.0px;font-size:13.4px;line-height:13.4px;color:#333;font-weight:normal;">影响光合作用</div>
<div class="t" id="t15" style="left:750.7px;top:347.7px;font-size:13.4px;line-height:13.4px;color:#333;font-weight:normal;">的因素及应用</div>
<div class="t" id="t16" style="left:810.0px;top:228.0px;font-size:13.4px;line-height:13.4px;color:#333;font-weight:normal;">光反应</div>
<div class="t" id="t17" style="left:810.0px;top:256.7px;font-size:13.4px;line-height:13.4px;color:#333;font-weight:normal;">暗反应</div>
<div class="t" id="t18" style="left:892.9px;top:229.1px;font-size:12px;line-height:12px;color:#333;font-weight:normal;">场所，条件</div>
<div class="t" id="t19" style="left:892.9px;top:244.5px;font-size:12px;line-height:12px;color:#333;font-weight:normal;">物质变化</div>
<div class="t" id="t20" style="left:892.9px;top:260.6px;font-size:12px;line-height:12px;color:#333;font-weight:normal;">能量变化</div>
<div class="t" id="t21" style="left:864.4px;top:300.7px;font-size:13.4px;line-height:13.4px;color:#333;font-weight:normal;">内部因素</div>
<div class="t" id="t22" style="left:865.4px;top:391.0px;font-size:13.4px;line-height:13.4px;color:#333;font-weight:normal;">外界因素</div>
<div class="t" id="t23" style="left:949.7px;top:287.2px;font-size:13.4px;line-height:13.4px;color:#333;font-weight:normal;">叶面积指数</div>
<div class="t" id="t24" style="left:949.7px;top:314.9px;font-size:13.4px;line-height:13.4px;color:#333;font-weight:normal;">叶龄</div>
<div class="t" id="t25" style="left:948.7px;top:341.2px;font-size:13.4px;line-height:13.4px;color:#333;font-weight:normal;">光照强度</div>
<div class="t" id="t26" style="left:949.7px;top:368.3px;font-size:13.4px;line-height:13.4px;color:#333;font-weight:normal;">温度</div>
<div class="t" id="t27" style="left:949.7px;top:392.40000000000003px;font-size:13.4px;line-height:13.4px;color:#333;font-weight:normal;">二氧化碳浓度</div>
<div class="t" id="t28" style="left:948.7px;top:418.1px;font-size:13.4px;line-height:13.4px;color:#333;font-weight:normal;">必需矿质元素</div>
<div class="t" id="t29" style="left:949.7px;top:442.6px;font-size:13.4px;line-height:13.4px;color:#333;font-weight:normal;">水</div>
<div class="t" id="t30" style="left:752.5px;top:464.5px;font-size:13.4px;line-height:13.4px;color:#333;font-weight:normal;"><span style="font-size:14px;-webkit-text-stroke:0.25px #333">ATP</span>的主要来源</div>
<div class="t" id="t31" style="left:751.5999999999999px;top:489.3px;font-size:13.4px;line-height:13.4px;color:#333;font-weight:normal;">概念</div>
<div class="t" id="t32" style="left:751.5999999999999px;top:524.4px;font-size:13.4px;line-height:13.4px;color:#333;font-weight:normal;">方式</div>
<div class="t" id="t33" style="left:750.5999999999999px;top:563.4px;font-size:13.4px;line-height:13.4px;color:#333;font-weight:normal;">实质</div>
<div class="t" id="t34" style="left:751.5999999999999px;top:587.5px;font-size:13.4px;line-height:13.4px;color:#333;font-weight:normal;">意义</div>
<div class="t" id="t35" style="left:750.5px;top:614.0px;font-size:13.4px;line-height:13.4px;color:#333;font-weight:normal;">影响呼吸作用</div>
<div class="t" id="t36" style="left:750.5px;top:632.0px;font-size:13.4px;line-height:13.4px;color:#333;font-weight:normal;">的因素及应用</div>
<div class="t" id="t37" style="left:808.8000000000001px;top:511.4px;font-size:13.4px;line-height:13.4px;color:#333;font-weight:normal;">有氧呼吸</div>
<div class="t" id="t38" style="left:808.8000000000001px;top:539.3px;font-size:13.4px;line-height:13.4px;color:#333;font-weight:normal;">无氧呼吸</div>
<div class="t" id="t39" style="left:912.5px;top:525.4px;font-size:12px;line-height:12px;color:#333;font-weight:normal;">比较</div>
<div class="t" id="t40" style="left:863.8px;top:596.75px;font-size:13.4px;line-height:13.4px;color:#333;font-weight:normal;">内部因素</div>
<div class="t" id="t41" style="left:864.8px;top:660.8px;font-size:13.4px;line-height:13.4px;color:#333;font-weight:normal;">环境因素</div>
<div class="t" id="t42" style="left:949.1px;top:596.75px;font-size:13.4px;line-height:13.4px;color:#333;font-weight:normal;">遗传因素</div>
<div class="t" id="t43" style="left:949.7px;top:621.1px;font-size:13.4px;line-height:13.4px;color:#333;font-weight:normal;">温度</div>
<div class="t" id="t44" style="left:948.7px;top:645.0px;font-size:13.4px;line-height:13.4px;color:#333;font-weight:normal;">氧气浓度</div>
<div class="t" id="t45" style="left:948.7px;top:671.1px;font-size:13.4px;line-height:13.4px;color:#333;font-weight:normal;"><span style="font-size:13.8px;position:relative;top:2px;-webkit-text-stroke:0.2px #333">CO2</span>浓度</div>
<div class="t" id="t46" style="left:949.7px;top:695.05px;font-size:13.4px;line-height:13.4px;color:#333;font-weight:normal;">含水量</div>
<div class="t" id="t47" style="left:220.3px;top:258.7px;font-size:13.4px;line-height:13.4px;color:#333;font-weight:normal;">细胞代谢</div>
<div class="t" id="t48" style="left:161.5px;top:258.7px;font-size:13.4px;line-height:13.4px;color:#333;font-weight:normal;">概念</div>
<div class="t" id="t49" style="left:262.5px;top:363.9px;font-size:13.4px;line-height:13.4px;color:#333;font-weight:normal;">酶</div>
<div class="t" id="t50" style="left:247.8px;top:513.7px;font-size:13.5px;line-height:13.5px;color:#333;font-weight:normal;">ATP</div>
<div class="t" id="t51" style="left:125.1px;top:287.7px;font-size:13.4px;line-height:13.4px;color:#333;font-weight:normal;">降低反应的活化能</div>
<div class="t" id="t52" style="left:177.60000000000002px;top:317.7px;font-size:13.4px;line-height:13.4px;color:#333;font-weight:normal;">发现历程</div>
<div class="t" id="t53" style="left:39.5px;top:317.7px;font-size:13.4px;line-height:13.4px;color:#333;font-weight:normal;">关于酶本质的探索</div>
<div class="t" id="t54" style="left:204.20000000000002px;top:348.05px;font-size:13.4px;line-height:13.4px;color:#333;font-weight:normal;">概念</div>
<div class="t" id="t55" style="left:65.3px;top:348.05px;font-size:13.4px;line-height:13.4px;color:#333;font-weight:normal;">来源；功能；本质</div>
<div class="t" id="t56" style="left:166.5px;top:378.2px;font-size:13.4px;line-height:13.4px;color:#333;font-weight:normal;">种类和利用</div>
<div class="t" id="t57" style="left:203.0px;top:407.59999999999997px;font-size:13.4px;line-height:13.4px;color:#333;font-weight:normal;">特性</div>
<div class="t" id="t58" style="left:126.10000000000001px;top:438.4px;font-size:13.4px;line-height:13.4px;color:#333;font-weight:normal;">影响酶活性的因素</div>
<div class="t" id="t59" style="left:53.2px;top:438.4px;font-size:13.4px;line-height:13.4px;color:#333;font-weight:normal;">酶活性</div>
<div class="t" id="t60" style="left:99.3px;top:467.9px;font-size:13.4px;line-height:13.4px;color:#333;font-weight:normal;">细胞的能量<span style="display:inline-block;width:15px;text-align:right">“</span>通货<span style="display:inline-block;width:11px;text-align:left">”</span></div>
<div class="t" id="t61" style="left:151.1px;top:498.25px;font-size:13.4px;line-height:13.4px;color:#333;font-weight:normal;">结构和功能</div>
<div class="t" id="t62" style="left:97.9px;top:529.3px;font-size:13.4px;line-height:13.4px;color:#333;font-weight:normal;"><span style="font-size:13.5px">ATP</span>与<span style="font-size:13.5px">ADP</span>相互转化</div>
<div class="t" id="t63" style="left:152.1px;top:556.3000000000001px;font-size:13.4px;line-height:13.4px;color:#333;font-weight:normal;">再生和利用</div>
<div class="t" id="t64" style="left:692.4px;top:356.2px;font-size:10.5px;line-height:10.5px;color:#444;font-weight:normal;line-height:15.5px;">相<br>互<br>关<br>系</div>
<div class="t" id="t65" style="left:528.85px;top:721.4px;font-size:12.5px;line-height:12.5px;color:#333;font-weight:normal;font-family:Liberation Serif,serif;">4/20</div>
<div class="t" style="left:884.5px;top:719px;font-size:20.5px;line-height:21px;color:#fff;font-weight:normal;letter-spacing:0.45px;text-shadow:1px 1px 0 #000,1.6px 1.6px 0 #000,1.6px 0.6px 0 #000,0.6px 1.6px 0 #000,-0.7px 0 0 #000,0 -0.7px 0 #000">搜狐号@物理大师</div>
</body></html>
